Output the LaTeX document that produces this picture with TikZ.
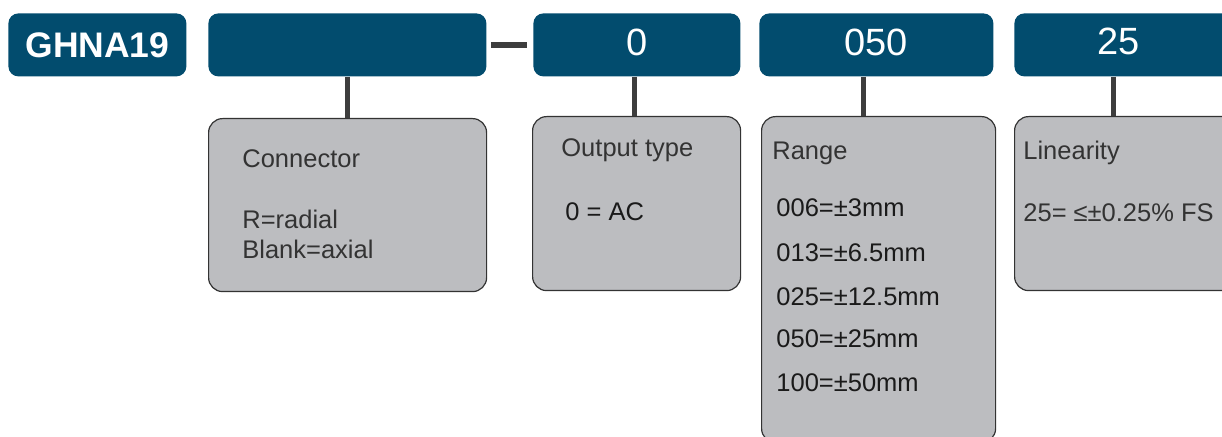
\documentclass[tikz,border=0pt]{standalone}
\usepackage{fontspec}
\setmainfont{Liberation Sans}
\usetikzlibrary{positioning}
\definecolor{headblue}{HTML}{024C6E}
\definecolor{boxgray}{HTML}{BCBDC0}
\definecolor{boxline}{HTML}{333333}
\definecolor{linkgray}{HTML}{3D3D3D}
\definecolor{titlegray}{HTML}{333333}
\definecolor{valgray}{HTML}{1A1A1A}

\begin{document}
\begin{tikzpicture}[x=0.5pt, y=-0.5pt,
    head node/.style={rectangle, rounded corners=5pt, fill=headblue, text=white, anchor=north west,
                      inner sep=0pt, minimum height=31.5pt, text depth=3pt, font=\fontsize{19}{19}\selectfont},
    info node/.style={rectangle, rounded corners=7pt, fill=boxgray, draw=boxline, line width=0.6pt,
                      anchor=north west, inner sep=0pt},
    title node/.style={anchor=base west, inner sep=0pt, text=titlegray, font=\fontsize{12.75}{12.75}\selectfont},
    value node/.style={title node, text=valgray},
    link/.style={draw=linkgray, line width=2.75pt}]

  \useasboundingbox (0,0) rectangle (1222,437);

  % code boxes
  \node[head node, minimum width=89pt, text depth=0pt, font=\fontsize{17.75}{17.75}\selectfont\bfseries] (part) at (8,13) {GHNA19};
  \node[head node, minimum width=139pt] (conHead) at (208,13) {};
  \node[head node, minimum width=103.5pt] (outHead) at (533,13) {0};
  \node[head node, minimum width=117pt] (rngHead) at (759,13) {050};
  \node[head node, minimum width=113pt,
        label={[text=white, font=\fontsize{19}{19}\selectfont, xshift=-4.5pt, yshift=1.5pt]center:25}] (linHead) at (1014,13) {};

  % description boxes
  \node[info node, minimum width=139pt, minimum height=86.5pt] (conBox) at (208,118) {};
  \node[info node, minimum width=104pt, minimum height=87pt] (outBox) at (532,116) {};
  \node[info node, minimum width=117pt, minimum height=163pt] (rngBox) at (761,116) {};
  \node[info node, minimum width=120pt, minimum height=87pt] (linBox) at (1014,116) {};

  \draw[link] ([xshift=2pt]conHead.east) -- ([xshift=-3pt]outHead.west);
  \draw[link] (conHead.south) -- (conHead.south |- conBox.north);
  \draw[link] ([xshift=-1.25pt]outHead.south) -- ([xshift=-1.25pt]outHead.south |- outBox.north);
  \draw[link] ([xshift=-6.5pt]rngHead.south) -- ([xshift=-6.5pt]rngHead.south |- rngBox.north);
  \draw[link] ([xshift=-7pt]linHead.south) -- ([xshift=-7pt]linHead.south |- linBox.north);

  % texts
  \node[title node] (conTitle) at (242,168) {Connector};
  \node[title node] (conR) at (242,229) {R=radial};
  \node[title node] (conBlank) at (242,259) {Blank=axial};

  \node[title node] (outTitle) at (561,157) {Output type};
  \node[value node] (outAC) at (565,221) {0 = AC};

  \node[title node] (rngTitle) at (772,160) {Range};
  \foreach \val/\yy [count=\i] in {006=±3mm/217, 013=±6.5mm/262, 025=±12.5mm/306, 050=±25mm/348, 100=±50mm/392}
    \node[value node] (rng\i) at (776,\yy) {\val};

  \node[title node] (linTitle) at (1023,160) {Linearity};
  \node[title node] (linFS) at (1023,222) {25= ≤±0.25\% FS};

\end{tikzpicture}
\end{document}
